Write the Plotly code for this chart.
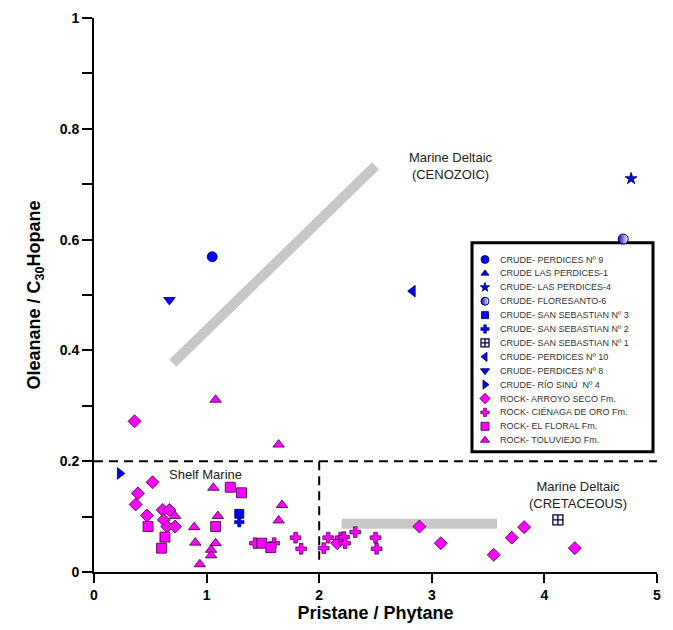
import plotly.graph_objects as go

# ---------------- data ----------------
crude_names = ["CRUDE- PERDICES Nº 9", "CRUDE LAS PERDICES-1", "CRUDE- LAS PERDICES-4",
               "CRUDE- FLORESANTO-6", "CRUDE- SAN SEBASTIAN Nº 3", "CRUDE- SAN SEBASTIAN Nº 2",
               "CRUDE- SAN SEBASTIAN Nº 1", "CRUDE- PERDICES Nº 10", "CRUDE- PERDICES Nº 8",
               "CRUDE- RÍO SINÚ  Nº 4"]
crude_x = [[1.05], [], [4.77], [4.70], [1.29], [1.29], [4.12], [2.83], [0.67], [0.23]]
crude_y = [[0.569], [], [0.710], [0.601], [0.105], [0.090], [0.094], [0.507], [0.491], [0.178]]

arroyo_x = [0.36, 0.52, 0.39, 0.37, 0.47, 0.61, 0.67, 0.62, 0.65, 0.72,
            2.16, 2.89, 3.08, 3.55, 3.71, 3.82, 4.27]
arroyo_y = [0.272, 0.162, 0.142, 0.122, 0.102, 0.112, 0.112, 0.094, 0.082, 0.082,
            0.052, 0.082, 0.052, 0.031, 0.062, 0.081, 0.043]

cienaga_x = [1.43, 1.60, 1.79, 1.84, 2.04, 2.08, 2.19, 2.22, 2.23, 2.32, 2.50, 2.51]
cienaga_y = [0.052, 0.052, 0.062, 0.042, 0.043, 0.062, 0.062, 0.063, 0.052, 0.072, 0.062, 0.042]

floral_x = [1.21, 1.31, 0.48, 0.63, 0.60, 1.08, 1.49, 1.57]
floral_y = [0.153, 0.143, 0.082, 0.063, 0.043, 0.082, 0.052, 0.044]

toluviejo_x = [1.08, 1.06, 0.72, 1.10, 0.89, 0.90, 1.08, 1.04, 1.04, 0.94, 1.64, 1.67, 1.64]
toluviejo_y = [0.311, 0.152, 0.101, 0.101, 0.081, 0.053, 0.052, 0.040, 0.030, 0.014, 0.230, 0.121, 0.093]

rock_names = ["ROCK- ARROYO SECO Fm.", "ROCK- CIÉNAGA DE ORO Fm.", "ROCK- EL FLORAL Fm.",
              "ROCK- TOLUVIEJO Fm."]

# field markers (gray bands) and divider lines
cenozoic_x = [0.70, 2.50]
cenozoic_y = [0.377, 0.733]
cretaceous_x = [2.20, 3.58]
cretaceous_y = [0.087, 0.087]
shelf_limit_y = 0.2
shelf_limit_x = 2.0

x_ticks = [0, 1, 2, 3, 4, 5]
y_ticks = [0, 0.2, 0.4, 0.6, 0.8, 1.0]
y_ticktext = ["0", "0.2", "0.4", "0.6", "0.8", "1"]

# ---------------- styles ----------------
BLUE = "#0000ff"
NAVY = "#000040"
MAG = "#ff00ff"
DMAG = "#3a003a"
crude_style = [
    dict(symbol="circle", size=10, color=BLUE, line=dict(color=NAVY, width=0.8)),
    dict(symbol="triangle-up", size=9, color=BLUE, line=dict(color=NAVY, width=0.8)),
    dict(symbol="star", size=9, color=BLUE, line=dict(color=NAVY, width=0.8)),
    dict(symbol="circle", size=10, color=BLUE, line=dict(color=NAVY, width=1),
         gradient=dict(type="horizontal", color="white")),
    dict(symbol="square", size=9, color=BLUE, line=dict(color=NAVY, width=0.8)),
    dict(symbol="cross", size=8, color=BLUE, line=dict(color=NAVY, width=0.5)),
    dict(symbol="square-cross", size=10, color="white", line=dict(color=NAVY, width=1.3)),
    dict(symbol="triangle-left", size=10, color=BLUE, line=dict(color=NAVY, width=0.8)),
    dict(symbol="triangle-down", size=10, color=BLUE, line=dict(color=NAVY, width=0.8)),
    dict(symbol="triangle-right", size=10, color=BLUE, line=dict(color=NAVY, width=0.8)),
]
rock_style = [
    dict(symbol="diamond", size=10, color=MAG, line=dict(color=DMAG, width=0.8)),
    dict(symbol="cross", size=9, color=MAG, line=dict(color=DMAG, width=0.7)),
    dict(symbol="square", size=10, color=MAG, line=dict(color=DMAG, width=0.8)),
    dict(symbol="triangle-up", size=10, color=MAG, line=dict(color=DMAG, width=0.8)),
]
rock_x = [arroyo_x, cienaga_x, floral_x, toluviejo_x]
rock_y = [arroyo_y, cienaga_y, floral_y, toluviejo_y]

fig = go.Figure()

# rock samples
for name, xs, ys, st in zip(rock_names, rock_x, rock_y, rock_style):
    fig.add_trace(go.Scatter(x=xs, y=ys, mode="markers", name=name, marker=st,
                             showlegend=False, cliponaxis=False))
# crude samples
for name, xs, ys, st in zip(crude_names, crude_x, crude_y, crude_style):
    fig.add_trace(go.Scatter(x=xs, y=ys, mode="markers", name=name, marker=st,
                             showlegend=False, cliponaxis=False))

# ---------------- custom compact legend ----------------
all_names = crude_names + rock_names
all_styles = crude_style + rock_style
L = 94; R = 657; T = 10; B = 572  # plot area in px (for legend layout only)
W = R - L; H = B - T
row0, row_step = 255, 14.1
leg_mx = (485 - L) / W
leg_tx = (498 - L) / W
for i, (name, st) in enumerate(zip(all_names, all_styles)):
    yy = (B - (row0 + row_step * i)) / H
    s = dict(st)
    s["size"] = max(st["size"] - 2, 7)
    fig.add_trace(go.Scatter(x=[leg_mx], y=[yy], mode="markers", marker=s,
                             xaxis="x2", yaxis="y2", showlegend=False, hoverinfo="skip"))
    fig.add_annotation(x=leg_tx, y=yy, xref="paper", yref="paper", text=name,
                       showarrow=False, xanchor="left", yanchor="middle",
                       font=dict(family="Arial, Liberation Sans", size=9, color="#333333"))

shapes = [
    # legend box
    dict(type="rect", xref="paper", yref="paper", x0=(472 - L) / W, x1=(653 - L) / W,
         y0=(B - 450) / H, y1=(B - 238) / H, line=dict(color="black", width=3),
         fillcolor="white", layer="below"),
    # gray field bands
    dict(type="line", x0=cenozoic_x[0], y0=cenozoic_y[0], x1=cenozoic_x[1], y1=cenozoic_y[1],
         line=dict(color="#c8c8c8", width=10), layer="below"),
    dict(type="line", x0=cretaceous_x[0], y0=cretaceous_y[0], x1=cretaceous_x[1], y1=cretaceous_y[1],
         line=dict(color="#c8c8c8", width=10), layer="below"),
    # dashed dividers
    dict(type="line", x0=0, x1=5, y0=shelf_limit_y, y1=shelf_limit_y,
         line=dict(color="black", width=2, dash="9px,6px"), layer="below"),
    dict(type="line", x0=shelf_limit_x, x1=shelf_limit_x, y0=shelf_limit_y, y1=0.022,
         line=dict(color="black", width=2, dash="9px,6px"), layer="below"),
]

txt_font = dict(family="Arial, Liberation Sans", size=13, color="#222222")
fig.add_annotation(x=3.17, y=0.733, text="Marine Deltaic<br>(CENOZOIC)", showarrow=False,
                   font=txt_font)
fig.add_annotation(x=0.99, y=0.176, text="Shelf Marine", showarrow=False, font=txt_font)
fig.add_annotation(x=4.30, y=0.139, text="Marine Deltaic<br>(CRETACEOUS)", showarrow=False,
                   font=txt_font)

tick_font = dict(family="Arial, Liberation Sans", size=14, color="black")
title_font = dict(family="Arial, Liberation Sans", size=18, color="black")

fig.update_layout(
    width=673, height=630,
    margin=dict(l=L, r=673 - R, t=T, b=630 - B),
    paper_bgcolor="white", plot_bgcolor="white",
    shapes=shapes,
    xaxis=dict(range=[0, 5], tickvals=x_ticks, ticktext=["<b>%d</b>" % v for v in x_ticks],
               showgrid=False, zeroline=False, showline=True, linecolor="black", linewidth=2,
               ticks="outside", ticklen=9, tickwidth=2, tickcolor="black", tickfont=tick_font,
               title=dict(text="<b>Pristane / Phytane</b>", font=title_font, standoff=3)),
    yaxis=dict(range=[0, 1], tickvals=y_ticks, ticktext=["<b>%s</b>" % t for t in y_ticktext],
               showgrid=False, zeroline=False, showline=True, linecolor="black", linewidth=2,
               ticks="outside", ticklen=10, tickwidth=2, tickcolor="black", tickfont=tick_font,
               minor=dict(dtick=0.1, ticks="outside", ticklen=10, tickwidth=2,
                          tickcolor="black", showgrid=False),
               title=dict(text="<b>Oleanane / C<sub>30</sub>Hopane</b>", font=title_font,
                          standoff=14)),
    xaxis2=dict(range=[0, 1], overlaying="x", visible=False),
    yaxis2=dict(range=[0, 1], overlaying="y", visible=False),
    showlegend=False,
)

fig.write_html("out.html")
